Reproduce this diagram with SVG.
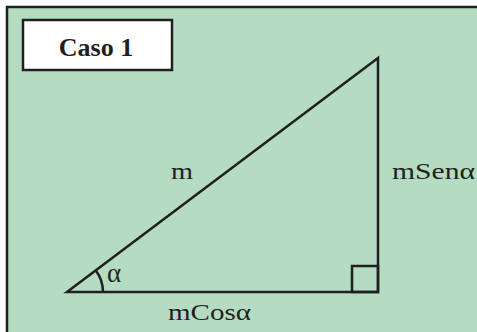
<svg xmlns="http://www.w3.org/2000/svg" width="477" height="332" viewBox="0 0 477 332">
<style>
.lbl{font-family:"Liberation Serif","DejaVu Serif",serif;font-size:23px;fill:#231f20}
.ln{stroke:#231f20;stroke-width:2.5;fill:none}
</style>
<rect x="0" y="0" width="477" height="332" fill="#ffffff"/>
<g id="panel">
<rect x="7" y="7" width="470" height="325" fill="#b3dcc3"/>
<path d="M7,332 V7 H477" fill="none" stroke="#231f20" stroke-width="2.5"/>
</g>
<g id="title">
<rect x="23" y="20" width="149" height="50" fill="#ffffff" stroke="#231f20" stroke-width="2.5"/>
<text x="96" y="56" text-anchor="middle" style="font-family:'Liberation Serif',serif;font-size:26px;font-weight:bold;fill:#231f20">Caso 1</text>
</g>
<g id="connectors">
<polygon class="ln" points="67,292 378,58 378,292" stroke-linejoin="miter"/>
<rect class="ln" x="352" y="266" width="26" height="26"/>
<path class="ln" d="M103,292 A36,36 0 0 0 95.8,270.4"/>
</g>
<g id="labels">
<text class="lbl" x="171" y="179" textLength="22" lengthAdjust="spacingAndGlyphs">m</text>
<text class="lbl" x="392" y="179" textLength="83" lengthAdjust="spacingAndGlyphs">mSenα</text>
<text class="lbl" x="168" y="320" textLength="83" lengthAdjust="spacingAndGlyphs">mCosα</text>
<text class="lbl" x="107" y="282" style="font-size:27px">α</text>
</g>
</svg>
